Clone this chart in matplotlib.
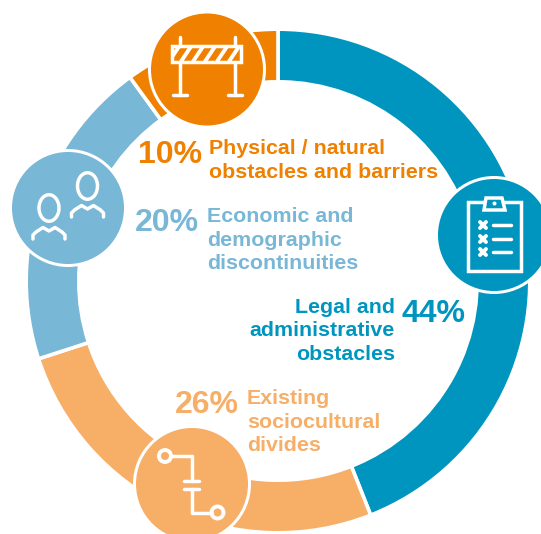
#!/usr/bin/env python3
"""Ring chart of cross-border obstacle types with icon badges."""

import matplotlib
matplotlib.use('Agg')
import matplotlib.pyplot as plt
from matplotlib.patches import Circle, Ellipse, Rectangle, Polygon

plt.rcParams['font.family'] = ['Liberation Sans', 'DejaVu Sans']

W, H = 541, 534

shares = [44, 26, 20, 10]
share_labels = ['44%', '26%', '20%', '10%']
categories = [
    ['Legal and', 'administrative', 'obstacles'],
    ['Existing', 'sociocultural', 'divides'],
    ['Economic and', 'demographic', 'discontinuities'],
    ['Physical / natural', 'obstacles and barriers'],
]
colors = ['#0095BF', '#F7AE67', '#78B7D6', '#F08000']

LINE_GAP = 23.5


def line(ax, xs, ys, lw=2.5, clip=None):
    artist, = ax.plot(xs, ys, color='white', lw=lw, solid_capstyle='round',
                      solid_joinstyle='round', zorder=6)
    if clip is not None:
        artist.set_clip_path(clip)
    return artist


def badge(ax, x, y, color):
    ax.add_patch(Circle((x, y), 59, fc='white', ec='none', zorder=4))
    ax.add_patch(Circle((x, y), 56, fc=color, ec='none', zorder=5))


def barrier_icon(ax):
    panel = Rectangle((172, 46), 69, 16, fc='none', ec='white', lw=2.5, zorder=6)
    ax.add_patch(panel)
    for x in range(168, 240, 12):
        line(ax, [x, x + 12], [63, 45], lw=2.8, clip=panel)
    for x in (180, 235):
        line(ax, [x, x], [37, 46])
        line(ax, [x, x], [62, 95])
        line(ax, [x - 7, x + 7], [95, 95])


def person_icon(ax, dx, dy):
    ax.add_patch(Ellipse((49 + dx, 208 + dy), 20, 26.5, fc='none', ec='white',
                         lw=2.5, zorder=6))
    line(ax, [33 + dx, 33 + dx, 36 + dx, 43 + dx, 49 + dx, 55 + dx, 62 + dx, 65 + dx, 65 + dx],
         [239 + dy, 235 + dy, 232 + dy, 227.5 + dy, 231 + dy, 227.5 + dy, 232 + dy, 235 + dy, 239 + dy],
         lw=2.5)


def clipboard_icon(ax):
    ax.add_patch(Rectangle((468, 202), 52.5, 69, fc='none', ec='white', lw=2.5, zorder=6))
    ax.add_patch(Polygon([(484, 210), (486, 198), (502, 198), (505, 210)], closed=True,
                         fc='#0095BF', ec='white', lw=2.5, zorder=6))
    ax.add_patch(Circle((494.5, 203.5), 2, fc='white', ec='none', zorder=7))
    for y in (225, 239, 252):
        line(ax, [480, 486], [y - 3, y + 3], lw=2.8)
        line(ax, [480, 486], [y + 3, y - 3], lw=2.8)
        line(ax, [493, 510.5], [y, y], lw=2.5)


def circuit_icon(ax):
    ax.add_patch(Circle((165, 456), 6, fc='none', ec='white', lw=2.8, zorder=6))
    ax.add_patch(Circle((217.5, 512.5), 6, fc='none', ec='white', lw=2.8, zorder=6))
    line(ax, [171, 191.5, 191.5], [456, 456, 480.5])
    line(ax, [184, 199], [480.5, 480.5])
    line(ax, [184, 199], [488.5, 488.5])
    line(ax, [191.5, 191.5, 211.5], [488.5, 512.5, 512.5])


def label_block(ax, x, y, lines, color, ha='left'):
    for i, txt in enumerate(lines):
        ax.text(x, y + i * LINE_GAP, txt, color=color, fontsize=15.4, fontweight='bold',
                ha=ha, va='baseline', zorder=8)


def main():
    fig = plt.figure(figsize=(W / 100, H / 100), dpi=100)
    ax = fig.add_axes([0, 0, 1, 1])

    # y axis runs downward, so increasing angle goes clockwise on screen
    ax.pie(shares, colors=colors, center=(278, 281), radius=251.8, startangle=-90,
           counterclock=True, wedgeprops=dict(width=52.6, edgecolor='white', linewidth=2.6))
    ax.set_xlim(0, W)
    ax.set_ylim(H, 0)
    ax.set_aspect('equal')
    ax.axis('off')

    badge(ax, 207, 69.5, colors[3])
    badge(ax, 68, 208, colors[2])
    badge(ax, 494, 235, colors[0])
    badge(ax, 192, 484, colors[1])

    barrier_icon(ax)
    person_icon(ax, 0, 0)
    person_icon(ax, 38.5, -22)
    clipboard_icon(ax)
    circuit_icon(ax)

    big = dict(fontsize=23, fontweight='bold', va='baseline', zorder=8)
    ax.text(401, 322, share_labels[0], color=colors[0], **big)
    ax.text(175, 413, share_labels[1], color=colors[1], **big)
    ax.text(135, 231, share_labels[2], color=colors[2], **big)
    ax.text(138, 163, share_labels[3], color=colors[3], **big)

    label_block(ax, 395, 313, categories[0], colors[0], ha='right')
    label_block(ax, 247, 404, categories[1], colors[1])
    label_block(ax, 207, 222, categories[2], colors[2])
    label_block(ax, 209, 154, categories[3], colors[3])

    plt.savefig('out.png', dpi=100)
    plt.close()


if __name__ == '__main__':
    main()
